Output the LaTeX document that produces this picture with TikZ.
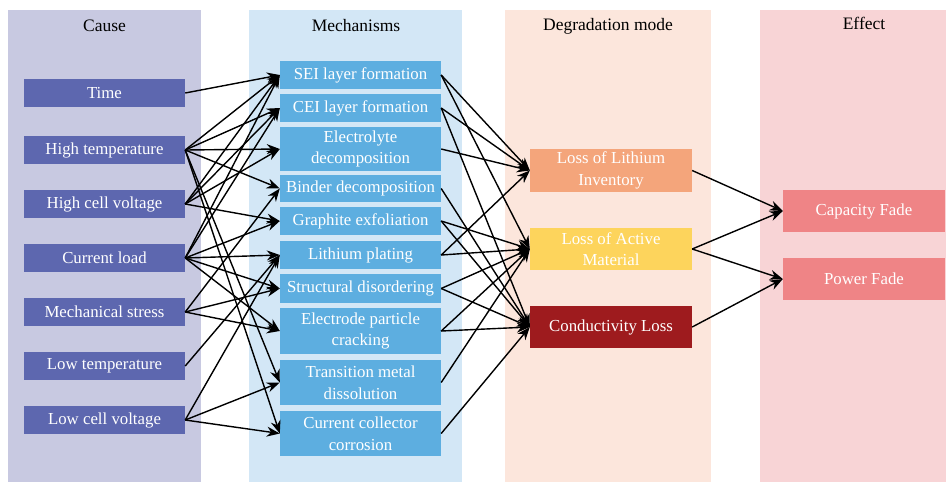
\documentclass[tikz,border=0pt]{standalone}
\usepackage{fontspec}
\setmainfont{Liberation Serif}
\usetikzlibrary{arrows.meta}
\definecolor{causeBg}{HTML}{C8C9E1}
\definecolor{causeC}{HTML}{5D67AF}
\definecolor{mechBg}{HTML}{D3E7F6}
\definecolor{mechC}{HTML}{5DAEE0}
\definecolor{degBg}{HTML}{FCE6DC}
\definecolor{lliC}{HTML}{F4A57B}
\definecolor{lamC}{HTML}{FDD45C}
\definecolor{condC}{HTML}{9E1B1E}
\definecolor{effBg}{HTML}{F8D4D6}
\definecolor{effC}{HTML}{EF8486}
\begin{document}
\begin{tikzpicture}[x=1pt,y=-1pt,
  box/.style={minimum width=161pt, text=white, inner sep=0pt, align=center, font=\fontsize{16.8}{21.5}\selectfont},
  causebox/.style={box, fill=causeC, minimum height=28pt},
  mechbox/.style={box, fill=mechC},
  degbox/.style={box, minimum width=162pt, minimum height=43pt},
  effbox/.style={box, fill=effC, minimum width=162pt, minimum height=42pt},
  title/.style={font=\fontsize{17.5}{20}\selectfont, text=black},
  conn/.style={-{Stealth[length=13pt,width=10pt]}, line width=1.4pt, black}]
\useasboundingbox (0,0) rectangle (949,482);
% backgrounds
\fill[causeBg] (8,10) rectangle (201,482);
\fill[mechBg] (249,10) rectangle (462,482);
\fill[degBg] (505,10) rectangle (711,482);
\fill[effBg] (760,10) rectangle (946,482);
\node[title] (tcause) at (104.5,26) {Cause};
\node[title] (tmech) at (356,26) {Mechanisms};
\node[title] (tdeg) at (608,26) {Degradation mode};
\node[title] (teff) at (864,23) {Effect};
% causes
\node[causebox] (time) at (104.5,93) {Time};
\node[causebox] (hight) at (104.5,150) {High temperature};
\node[causebox] (highv) at (104.5,204) {High cell voltage};
\node[causebox] (curr) at (104.5,258) {Current load};
\node[causebox] (mech) at (104.5,312) {Mechanical stress};
\node[causebox] (lowt) at (104.5,366) {Low temperature};
\node[causebox] (lowv) at (104.5,420) {Low cell voltage};
% mechanisms
\node[mechbox, minimum height=28pt] (sei) at (360.5,75) {SEI layer formation};
\node[mechbox, minimum height=28pt] (cei) at (360.5,108) {CEI layer formation};
\node[mechbox, minimum height=44pt] (elec) at (360.5,149) {Electrolyte\\decomposition};
\node[mechbox, minimum height=27pt] (bind) at (360.5,188.5) {Binder decomposition};
\node[mechbox, minimum height=28pt] (graph) at (360.5,221) {Graphite exfoliation};
\node[mechbox, minimum height=28pt] (plat) at (360.5,255) {Lithium plating};
\node[mechbox, minimum height=29pt] (struc) at (360.5,288.5) {Structural disordering};
\node[mechbox, minimum height=46pt] (crack) at (360.5,331) {Electrode particle\\cracking};
\node[mechbox, minimum height=45pt] (tm) at (360.5,382.5) {Transition metal\\dissolution};
\node[mechbox, minimum height=45pt] (cc) at (360.5,433.5) {Current collector\\corrosion};
% degradation modes
\node[degbox, fill=lliC] (lli) at (611,170.5) {Loss of Lithium\\Inventory};
\node[degbox, fill=lamC, minimum height=42pt] (lam) at (611,249) {Loss of Active\\Material};
\node[degbox, fill=condC, minimum height=42pt] (cond) at (611,327) {Conductivity Loss};
% effects
\node[effbox] (cap) at (864,211) {Capacity Fade};
\node[effbox] (pow) at (864,279) {Power Fade};
% cause -> mechanism
\draw[conn] (time.east) -- (sei.west);
\foreach \t in {sei,cei,elec,bind,tm,cc} \draw[conn] (hight.east) -- (\t.west);
\foreach \t in {sei,cei,elec,graph} \draw[conn] (highv.east) -- (\t.west);
\foreach \t in {sei,cei,graph,plat,struc,crack} \draw[conn] (curr.east) -- (\t.west);
\foreach \t in {bind,struc,crack} \draw[conn] (mech.east) -- (\t.west);
\draw[conn] (lowt.east) -- (plat.west);
\foreach \t in {plat,tm,cc} \draw[conn] (lowv.east) -- (\t.west);
% mechanism -> mode
\foreach \s in {sei,cei,elec,plat} \draw[conn] (\s.east) -- (lli.west);
\foreach \s in {sei,graph,plat,struc,crack,tm} \draw[conn] (\s.east) -- (lam.west);
\foreach \s in {cei,bind,graph,struc,crack,cc} \draw[conn] (\s.east) -- (cond.west);
% mode -> effect
\draw[conn] (lli.east) -- (cap.west);
\draw[conn] (lam.east) -- (cap.west);
\draw[conn] (lam.east) -- (pow.west);
\draw[conn] (cond.east) -- (pow.west);
\end{tikzpicture}
\end{document}
